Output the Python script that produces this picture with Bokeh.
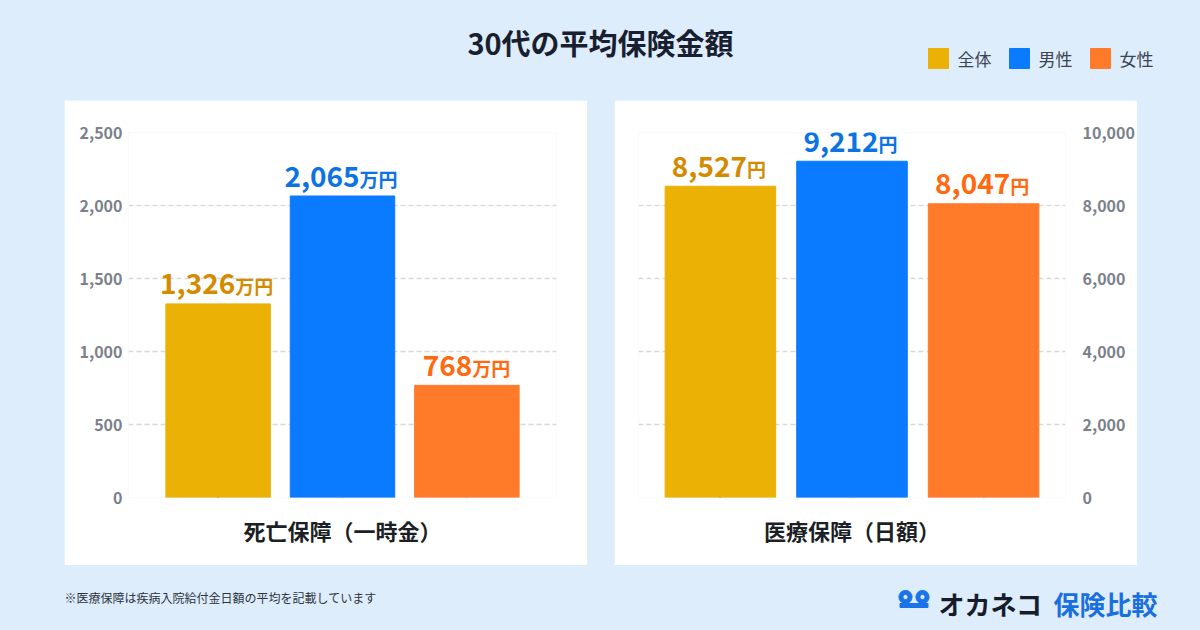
from bokeh.plotting import figure
from bokeh.models import ColumnDataSource, Range1d, FactorRange, FixedTicker, NumeralTickFormatter, Spacer
from bokeh.layouts import column, row
from bokeh.core.properties import value
from bokeh.embed import file_html
from bokeh.resources import INLINE

FONT = "Noto Sans CJK JP"
BG = "#deedfc"

TITLE = "30代の平均保険金額"
categories = ["全体", "男性", "女性"]
death_values = [1326, 2065, 768]
medical_values = [8527, 9212, 8047]
death_unit = "万円"
medical_unit = "円"
death_ticks = [0, 500, 1000, 1500, 2000, 2500]
medical_ticks = [0, 2000, 4000, 6000, 8000, 10000]
bar_colors = ["#EBB105", "#0A7BFF", "#FF7A29"]
label_colors = ["#D38B00", "#0C73E3", "#FF6A10"]
panel_titles = ["死亡保障（一時金）", "医療保障（日額）"]
footnote = "※医療保障は疾病入院給付金日額の平均を記載しています"
logo_left = "オカネコ"
logo_right = "保険比較"

NUM_FS = 28
UNIT_FS = 19
PANEL_W, PANEL_H = 523, 465
FRAME_TOP, FRAME_BOTTOM = 32, 68
FRAME_H = PANEL_H - FRAME_TOP - FRAME_BOTTOM


def est_width(s, fs):
    w = 0.0
    for ch in s:
        if ch.isdigit():
            w += 0.58 * fs
        elif ch == ",":
            w += 0.26 * fs
        else:
            w += fs
    return w


def blank(w, h, bg):
    return figure(width=w, height=h, x_range=Range1d(0, w), y_range=Range1d(h, 0),
                  x_axis_type=None, y_axis_type=None, min_border=0,
                  toolbar_location=None, output_backend="svg",
                  outline_line_color=None, background_fill_color=bg,
                  border_fill_color=bg)


def chart(vals, unit, ticks, title, y_loc, lb, rb, pad):
    ymax = ticks[-1]
    px = ymax / FRAME_H
    nums = [f"{v:,}" for v in vals]
    xoff = []
    for n in nums:
        wn = est_width(n, NUM_FS)
        wu = est_width(unit, UNIT_FS)
        xoff.append(-(wn + wu) / 2 + wn)
    src = ColumnDataSource(dict(cat=categories, val=vals, color=bar_colors,
                                lcolor=label_colors, num=nums,
                                ny=[v + 20 * px for v in vals],
                                uy=[v + 18 * px for v in vals],
                                unit=[unit] * len(vals), xoff=xoff))
    p = figure(x_range=FactorRange(*categories, range_padding=pad),
               y_range=Range1d(0, ymax), width=PANEL_W, height=PANEL_H,
               y_axis_location=y_loc, min_border_left=lb, min_border_right=rb,
               min_border_top=FRAME_TOP, min_border_bottom=FRAME_BOTTOM,
               toolbar_location=None, output_backend="svg",
               outline_line_color=None, background_fill_color="white",
               border_fill_color="white")
    p.xgrid.visible = False
    p.ygrid.ticker = FixedTicker(ticks=ticks)
    p.ygrid.grid_line_color = "#d9d9d9"
    p.ygrid.grid_line_dash = "5 3"
    p.ygrid.grid_line_width = 1.5
    ax = p.yaxis[0]
    ax.ticker = FixedTicker(ticks=ticks)
    ax.formatter = NumeralTickFormatter(format="0,0")
    ax.axis_line_color = None
    ax.major_tick_line_color = None
    ax.minor_tick_line_color = None
    ax.major_tick_out = 0
    ax.major_tick_in = 0
    ax.major_label_standoff = 6 if y_loc == "left" else 17
    ax.major_label_text_font = FONT
    ax.major_label_text_font_style = "bold"
    ax.major_label_text_font_size = "16px"
    ax.major_label_text_color = "#7b818a"
    xa = p.xaxis[0]
    xa.axis_line_color = None
    xa.major_tick_line_color = None
    xa.major_tick_out = 0
    xa.major_tick_in = 0
    xa.major_label_overrides = {c: "" for c in categories}
    xa.major_label_text_font_size = "1px"
    xa.major_label_standoff = 0
    xa.axis_label = title
    xa.axis_label_standoff = 12
    xa.axis_label_text_font = FONT
    xa.axis_label_text_font_style = "bold"
    xa.axis_label_text_font_size = "22px"
    xa.axis_label_text_color = "#1c1f26"
    p.vbar(x="cat", top="val", width=0.84, color="color", source=src)
    p.text(x="cat", y="ny", text="num", x_offset="xoff",
           text_align="right", text_baseline="middle",
           text_font=value(FONT), text_font_style="bold",
           text_font_size=f"{NUM_FS}px", text_color="lcolor", source=src)
    p.text(x="cat", y="uy", text="unit", x_offset="xoff",
           text_align="left", text_baseline="middle",
           text_font=value(FONT), text_font_style="bold",
           text_font_size=f"{UNIT_FS}px", text_color="lcolor", source=src)
    return p


# header
header = blank(1200, 100, BG)
header.text(x=[600], y=[41], text=[TITLE], text_align="center", text_baseline="middle",
            text_font=value(FONT), text_font_style="bold", text_font_size="29px",
            text_color="#182030")
lx = [928 + 81 * i for i in range(len(categories))]
header.rect(x=[x + 10 for x in lx], y=[58] * len(lx), width=20, height=20,
            color=bar_colors)
header.text(x=[x + 29 for x in lx], y=[58] * len(lx), text=categories,
            text_baseline="middle", text_font=value(FONT), text_font_size="17px",
            text_color="#3c4450")

c1 = chart(death_values, death_unit, death_ticks, panel_titles[0], "left", 64, 31, 0.147)
c2 = chart(medical_values, medical_unit, medical_ticks, panel_titles[1], "right", 24, 71, 0.0816)

# footer
footer = blank(1200, 65, BG)
footer.text(x=[64], y=[32], text=[footnote], text_baseline="middle",
            text_font=value(FONT), text_font_size="12px", text_color="#2d333d")
footer.annulus(x=[905, 922], y=[31.5, 31.5], inner_radius=2.6, outer_radius=6.6,
               color="#1a73e8")
footer.rect(x=[913.5], y=[40], width=28, height=4, color="#1a73e8")
footer.text(x=[938], y=[38], text=[logo_left], text_baseline="middle",
            text_font=value(FONT), text_font_style="bold", text_font_size="26px",
            text_color="#161c2a")
footer.text(x=[1053], y=[38], text=[logo_right], text_baseline="middle",
            text_font=value(FONT), text_font_style="bold", text_font_size="26px",
            text_color="#1a6fe0")

sp_style = {"background-color": BG}
mid = row(
    Spacer(width=64, height=PANEL_H, styles=sp_style),
    c1,
    Spacer(width=27, height=PANEL_H, styles=sp_style),
    c2,
    Spacer(width=63, height=PANEL_H, styles=sp_style),
    styles=sp_style,
)
layout = column(header, mid, footer, styles=sp_style)

open("out.html", "w").write(file_html(layout, INLINE))
